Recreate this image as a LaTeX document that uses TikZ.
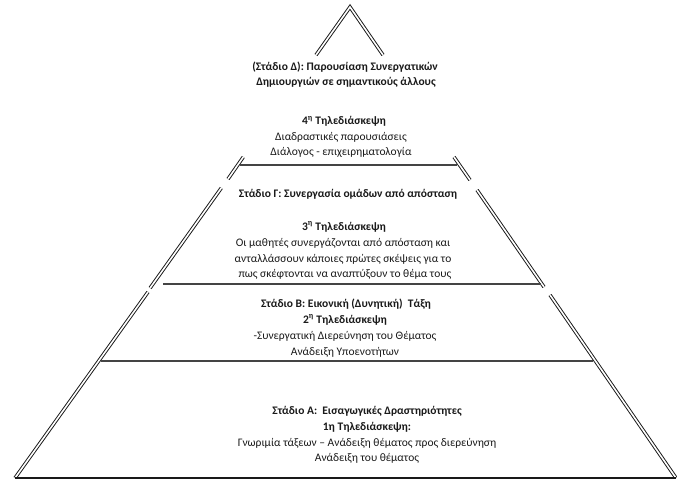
\documentclass[tikz,border=0pt]{standalone}
\usepackage{fontspec}
\setmainfont{Carlito}
\definecolor{txt}{HTML}{1A1A1A}
\definecolor{sepc}{HTML}{444444}
\begin{document}
\begin{tikzpicture}[x=1pt,y=-1pt,
  dbl/.style={draw=black!90, double=white, double distance=1.6pt, line width=0.95pt},
  sepline/.style={draw=sepc, line width=1.4pt},
  baseline/.style={draw=black!90, line width=1.9pt},
  nt/.style={font=\fontsize{11.5}{14}\selectfont, text=txt, inner sep=0pt, anchor=base},
  bt/.style={nt, font=\fontsize{11.5}{14}\selectfont\bfseries}]
\useasboundingbox (0,0) rectangle (677,481);
\fill[white] (0,0) rectangle (677,481);
% pyramid sides (visible pieces)
\draw[dbl] (316,55) -- (350,7) -- (383,55);
\draw[dbl] (243.3,157) -- (228,179);
\draw[dbl] (454,157) -- (470,180);
\draw[dbl] (221.3,188) -- (150.1,288);
\draw[dbl] (148,292) -- (15,478);
\draw[dbl] (477,190) -- (544,287);
\draw[dbl] (550,295) -- (676,478);
% horizontal separators
\draw[sepline] (240,165) -- (457,165);
\draw[sepline] (163,284) -- (541,284);
\draw[sepline] (101,361) -- (593,361);
\draw[baseline] (15,478) -- (676,478);
% Stage D
\node[bt] (d1) at (345,71) {(Στάδιο Δ): Παρουσίαση Συνεργατικών};
\node[bt] (d2) at (346,86) {Δημιουργιών σε σημαντικούς άλλους};
\node[bt] (d3) at (344,125) {4\textsuperscript{η} Τηλεδιάσκεψη};
\node[nt] (d4) at (341,141) {Διαδραστικές παρουσιάσεις};
\node[nt] (d5) at (341,156) {Διάλογος - επιχειρηματολογία};
% Stage C
\node[bt] (c1) at (348,198) {Στάδιο Γ: Συνεργασία ομάδων από απόσταση};
\node[bt] (c2) at (344,230) {3\textsuperscript{η} Τηλεδιάσκεψη};
\node[nt] (c3) at (343,246) {Οι μαθητές συνεργάζονται από απόσταση και};
\node[nt] (c4) at (343,262) {ανταλλάσσουν κάποιες πρώτες σκέψεις για το};
\node[nt] (c5) at (345,277.5) {πως σκέφτονται να αναπτύξουν το θέμα τους};
% Stage B
\node[bt] (b1) at (346,307) {Στάδιο Β: Εικονική (Δυνητική)\ \ Τάξη};
\node[bt] (b2) at (345,323) {2\textsuperscript{η} Τηλεδιάσκεψη};
\node[nt] (b3) at (345,339) {-Συνεργατική Διερεύνηση του Θέματος};
\node[nt] (b4) at (345,355) {Ανάδειξη Υποενοτήτων};
% Stage A
\node[bt] (a1) at (367,414) {Στάδιο Α:\ \ Εισαγωγικές Δραστηριότητες};
\node[bt] (a2) at (367,430) {1η Τηλεδιάσκεψη:};
\node[nt] (a3) at (367,446) {Γνωριμία τάξεων – Ανάδειξη θέματος προς διερεύνηση};
\node[nt] (a4) at (367,461) {Ανάδειξη του θέματος};
\end{tikzpicture}
\end{document}
